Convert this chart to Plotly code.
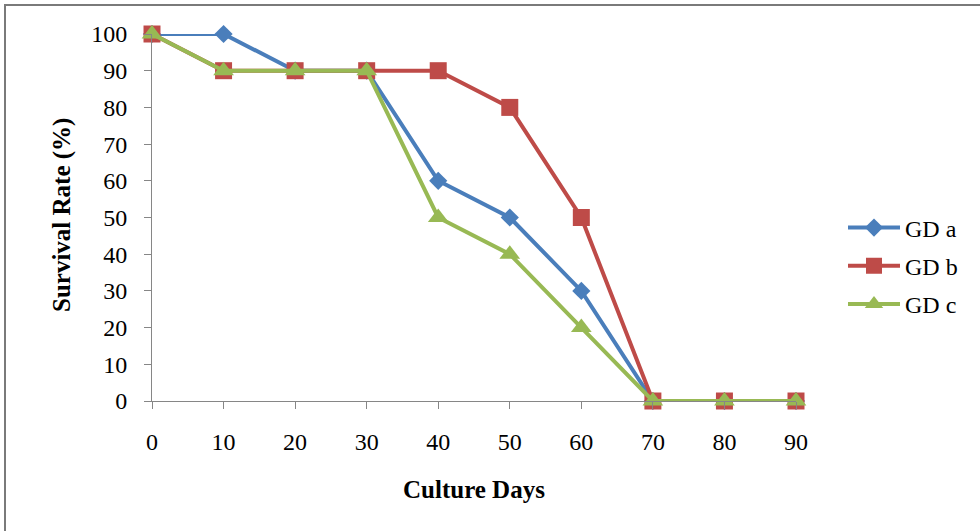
import plotly.graph_objects as go

# Culture days and survival rates (%) for each group
days = [0, 10, 20, 30, 40, 50, 60, 70, 80, 90]
gd_a = [100, 100, 90, 90, 60, 50, 30, 0, 0, 0]
gd_b = [100, 90, 90, 90, 90, 80, 50, 0, 0, 0]
gd_c = [100, 90, 90, 90, 50, 40, 20, 0, 0, 0]
y_ticks = [0, 10, 20, 30, 40, 50, 60, 70, 80, 90, 100]

W, H = 980, 531
ML, MR, MT, MB = 152, 184, 34, 130
PW, PH = W - ML - MR, H - MT - MB


def px_x(p):
    return (p - ML) / PW


def px_y(p):
    return (H - MB - p) / PH


FONT = "Liberation Serif, Times New Roman, serif"

series = [
    ("GD a", gd_a, "#4A7EBB", "diamond", 14),
    ("GD b", gd_b, "#BE4B48", "square", 17),
    ("GD c", gd_c, "#98B954", "triangle-up", 18),
]

fig = go.Figure()
for name, vals, color, symbol, size in series:
    fig.add_trace(go.Scatter(
        x=days, y=vals, name=name, legendgroup=name,
        mode="lines+markers",
        line=dict(color=color, width=4),
        marker=dict(symbol=symbol, size=size, color=color, line=dict(width=0)),
        cliponaxis=False,
    ))

axis_common = dict(
    showgrid=False, zeroline=False, showline=True,
    linecolor="#868686", linewidth=1,
    ticks="outside", ticklen=7, tickcolor="#868686", tickwidth=1,
    tickfont=dict(family=FONT, size=24, color="black"),
)

fig.update_xaxes(range=[0, 90], tickvals=days, ticklabelstandoff=12, **axis_common)
fig.update_yaxes(range=[0, 100], tickvals=y_ticks, ticklabelstandoff=12, **axis_common)

fig.add_annotation(
    text="Survival Rate (%)", xref="paper", yref="paper",
    x=px_x(62), y=px_y(215), xanchor="center", yanchor="middle",
    showarrow=False, textangle=-90,
    font=dict(family=FONT, size=25, color="black", weight="bold"),
)
fig.add_annotation(
    text="Culture Days", xref="paper", yref="paper",
    x=px_x(474), y=px_y(489), xanchor="center", yanchor="middle",
    showarrow=False,
    font=dict(family=FONT, size=25, color="black", weight="bold"),
)

# Outer chart frame
fig.add_shape(
    type="rect", xref="paper", yref="paper",
    x0=px_x(5), y0=px_y(5), x1=px_x(W + 10), y1=px_y(H + 10),
    line=dict(color="#7a7a7a", width=2), fillcolor="rgba(0,0,0,0)", layer="above",
)

fig.update_layout(
    width=W, height=H,
    margin=dict(l=ML, r=MR, t=MT, b=MB),
    paper_bgcolor="white", plot_bgcolor="white",
    showlegend=True,
    legend=dict(
        x=px_x(843), y=px_y(266), xanchor="left", yanchor="middle",
        font=dict(family=FONT, size=24, color="black"),
        tracegroupgap=4, itemwidth=52,
        bgcolor="rgba(0,0,0,0)",
    ),
)

fig.write_html("out.html")
